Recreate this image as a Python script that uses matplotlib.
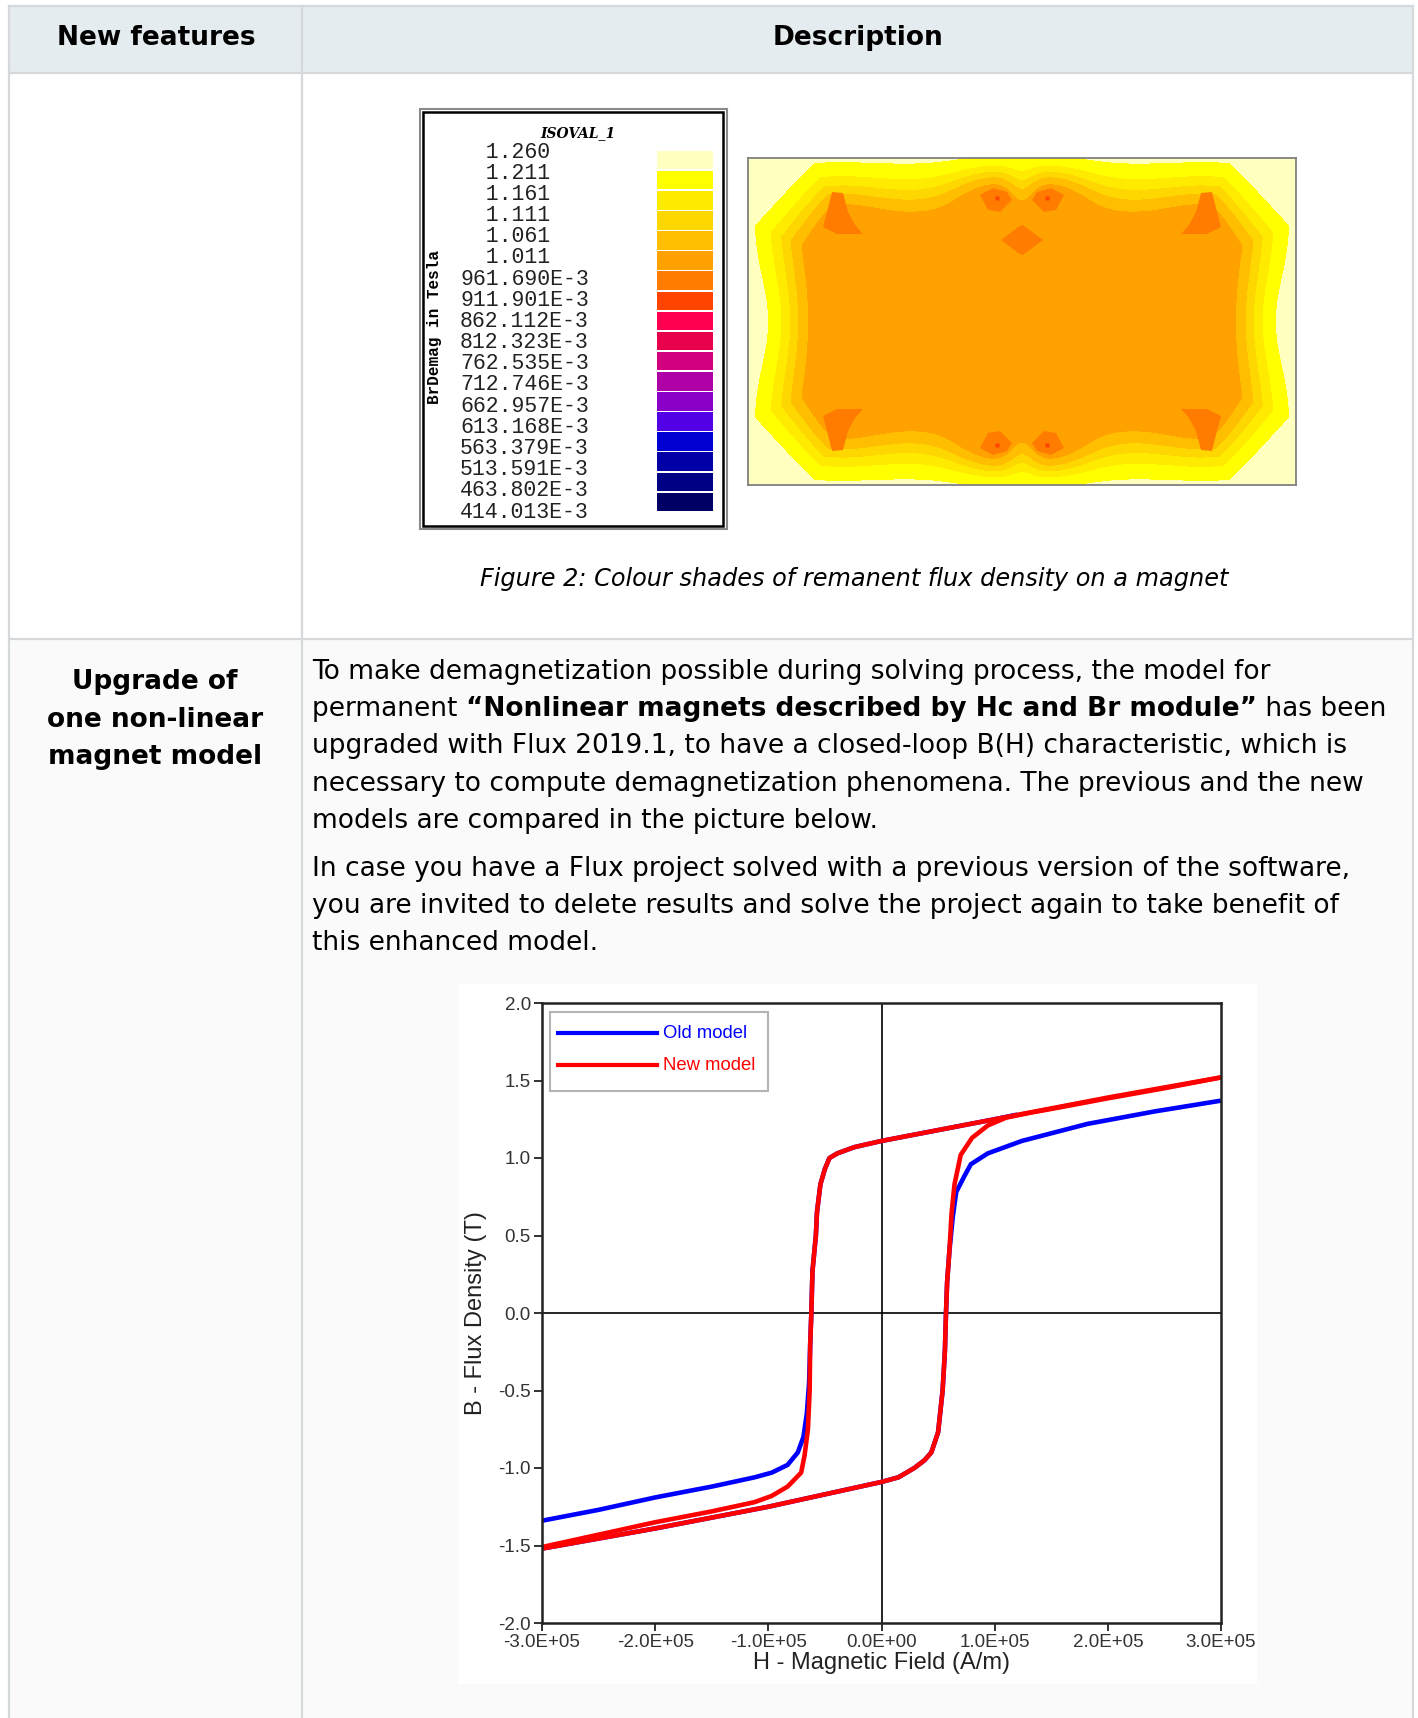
import numpy as np
import matplotlib
matplotlib.use("Agg")
import matplotlib.pyplot as plt
from matplotlib.colors import ListedColormap, BoundaryNorm
from matplotlib.patches import Rectangle, Polygon
from matplotlib.ticker import FixedLocator, FuncFormatter

# ---------------- data ----------------
# colour scale of the field plot (top = highest value)
iso_labels = ['1.260', '1.211', '1.161', '1.111', '1.061', '1.011',
              '961.690E-3', '911.901E-3', '862.112E-3', '812.323E-3',
              '762.535E-3', '712.746E-3', '662.957E-3', '613.168E-3',
              '563.379E-3', '513.591E-3', '463.802E-3', '414.013E-3']
iso_colors = ['#ffffc0', '#ffff00', '#ffeb00', '#ffd700', '#ffbf00', '#ffa200',
              '#ff7c00', '#ff4400', '#ff0050', '#e8004a', '#d20080', '#b000a8',
              '#8a00c8', '#5200e6', '#0000d2', '#0000a6', '#000084', '#000064']

# B(H) curves, H in 1E+05 A/m, B in T
h_new_down = [3.0, 2.5, 2.0, 1.5, 1.0, 0.5, 0.0, -0.24, -0.39, -0.46, -0.50, -0.54, -0.57, -0.58,
              -0.61, -0.62, -0.63, -0.635, -0.65, -0.68, -0.71, -0.83, -0.97, -1.12, -1.5, -2.0, -2.5, -3.0]
b_new_down = [1.52, 1.455, 1.39, 1.32, 1.25, 1.18, 1.11, 1.07, 1.03, 1.0, 0.93, 0.83, 0.65, 0.5,
              0.27, 0.0, -0.2, -0.5, -0.75, -0.92, -1.03, -1.12, -1.18, -1.22, -1.28, -1.35, -1.43, -1.51]
h_new_up = [-3.0, -2.5, -2.0, -1.5, -1.0, -0.5, 0.0, 0.15, 0.29, 0.38, 0.44, 0.50, 0.54, 0.56,
            0.57, 0.58, 0.60, 0.62, 0.645, 0.70, 0.80, 0.94, 1.10, 1.30, 1.60, 2.0, 2.5, 3.0]
b_new_up = [-1.52, -1.455, -1.39, -1.32, -1.25, -1.17, -1.09, -1.06, -1.0, -0.95, -0.9, -0.77, -0.5, -0.25,
            0.0, 0.2, 0.4, 0.65, 0.83, 1.02, 1.13, 1.21, 1.26, 1.29, 1.33, 1.385, 1.45, 1.52]

h_old_down = [1.2, 1.0, 0.5, 0.0, -0.24, -0.39, -0.46, -0.50, -0.54, -0.57, -0.58, -0.61, -0.62,
              -0.63, -0.64, -0.66, -0.69, -0.74, -0.83, -0.97, -1.12, -1.5, -2.0, -2.5, -3.0]
b_old_down = [1.28, 1.25, 1.18, 1.11, 1.07, 1.03, 1.0, 0.93, 0.83, 0.65, 0.5, 0.27, 0.0,
              -0.2, -0.45, -0.65, -0.8, -0.9, -0.98, -1.03, -1.06, -1.12, -1.19, -1.27, -1.34]
h_old_up = [-3.0, -2.5, -2.0, -1.5, -1.0, -0.5, 0.0, 0.15, 0.29, 0.38, 0.44, 0.50, 0.54, 0.56,
            0.57, 0.58, 0.60, 0.63, 0.66, 0.73, 0.79, 0.94, 1.24, 1.82, 2.41, 3.0]
b_old_up = [-1.52, -1.455, -1.39, -1.32, -1.25, -1.17, -1.09, -1.06, -1.0, -0.95, -0.9, -0.77, -0.5, -0.25,
            0.0, 0.2, 0.4, 0.62, 0.78, 0.88, 0.96, 1.03, 1.11, 1.22, 1.30, 1.37]

h_ticks = [-3, -2, -1, 0, 1, 2, 3]
b_ticks = [-2.0, -1.5, -1.0, -0.5, 0.0, 0.5, 1.0, 1.5, 2.0]

# magnet map: band edges (px from border) and local bumps of the top-left quadrant (x, y, amp, sx, sy)
band_edges = [6, 22, 33, 43, 55]
map_bumps = [(245, 40, 30, 30, 25), (274, 40, -25, 12, 22), (0, 163, -8, 40, 40), (95, 60, 10, 30, 30)]
# dark spots of the top-left quadrant (map px)
spot_triangle = [(84, 34), (95, 35), (100, 54), (107, 67), (115, 76), (89, 76), (75, 69), (79, 54)]
spot_diamond = [(232, 37), (245, 30), (259, 34), (264, 42), (252, 54), (240, 52)]
spot_center = [(255, 82), (275, 67), (295, 82), (275, 97)]

body_lines = [
    [("To make demagnetization possible during solving process, the model for", "normal")],
    [("permanent ", "normal"), ("\u201cNonlinear magnets described by Hc and Br module\u201d", "bold"), (" has been", "normal")],
    [("upgraded with Flux 2019.1, to have a closed-loop B(H) characteristic, which is", "normal")],
    [("necessary to compute demagnetization phenomena. The previous and the new", "normal")],
    [("models are compared in the picture below.", "normal")],
    [("In case you have a Flux project solved with a previous version of the software,", "normal")],
    [("you are invited to delete results and solve the project again to take benefit of", "normal")],
    [("this enhanced model.", "normal")],
]
body_y = [672, 709, 746, 784, 821, 869, 906, 943]

# ---------------- page ----------------
W, H = 1418, 1718
fig = plt.figure(figsize=(W / 100, H / 100), dpi=100)
page = fig.add_axes([0, 0, 1, 1])
page.set_xlim(0, W)
page.set_ylim(H, 0)
page.axis('off')


def px_axes(x0, y0, x1, y1):
    return fig.add_axes([x0 / W, 1 - y1 / H, (x1 - x0) / W, (y1 - y0) / H])


grid_col = '#d5d9dc'
page.add_patch(Rectangle((9, 6), 1404, 67, facecolor='#e5ecf0', edgecolor='none'))
page.add_patch(Rectangle((9, 73), 1404, 566, facecolor='white', edgecolor='none'))
page.add_patch(Rectangle((9, 639), 1404, 1090, facecolor='#fafafa', edgecolor='none'))
for yy in [6, 73, 639]:
    page.plot([9, 1413], [yy, yy], color=grid_col, lw=1.6)
for xx in [9, 302, 1413]:
    page.plot([xx, xx], [6, H], color=grid_col, lw=1.6)

page.text(156, 38, "New features", fontsize=19, fontweight='bold', ha='center', va='center')
page.text(858, 38, "Description", fontsize=19, fontweight='bold', ha='center', va='center')
for yy, s in zip([682, 720, 757], ["Upgrade of", "one non-linear", "magnet model"]):
    page.text(155, yy, s, fontsize=19, fontweight='bold', ha='center', va='center')

r = fig.canvas.get_renderer()
for yy, pieces in zip(body_y, body_lines):
    x = 312
    for s, w in pieces:
        t = page.text(x, yy, s, fontsize=19, fontweight=w, ha='left', va='center')
        x += t.get_window_extent(renderer=r).width

page.text(854, 579, "Figure 2: Colour shades of remanent flux density on a magnet",
          fontsize=17.3, fontstyle='italic', ha='center', va='center')

# ---------------- colour scale box ----------------
page.add_patch(Rectangle((420, 109), 307, 420, facecolor='white', edgecolor='#8a8a8a', lw=1.5))
page.add_patch(Rectangle((423, 112), 300, 414, facecolor='none', edgecolor='black', lw=1.8))
page.text(578, 133, "ISOVAL_1", fontsize=10, fontweight='bold', fontstyle='italic',
          family='DejaVu Serif', ha='center', va='center')
page.text(435, 327, "BrDemag in Tesla", fontsize=11.5, fontweight='bold', family='Liberation Mono',
          rotation=90, ha='center', va='center')
n = len(iso_labels)
pitch = (512 - 150) / n
lab_step = (512 - 152) / (n - 1)
for i, (lab, col) in enumerate(zip(iso_labels, iso_colors)):
    page.add_patch(Rectangle((657, 150 + i * pitch + 0.8), 56, pitch - 1.6, facecolor=col, edgecolor='none'))
    pad = ' ' * (3 - len(lab.split('.')[0]))
    page.text(460, 152 + i * lab_step, pad + lab, fontsize=15.5, family='Liberation Mono',
              color='#222222', ha='left', va='center')

# ---------------- magnet field map ----------------
mw, mh = 548, 327
axm = px_axes(748, 158, 748 + mw, 158 + mh)
gx, gy = np.meshgrid(np.arange(mw) + 0.5, np.arange(mh) + 0.5)
dx = np.minimum(gx, mw - gx)
dy = np.minimum(gy, mh - gy)
depth = np.minimum(np.minimum(dx, dy), (dx + dy) / np.sqrt(2) - 46)
seen = set()
for bx, by, amp, sx, sy in map_bumps:
    for cx in {bx, mw - bx}:
        for cy in {by, mh - by}:
            if (cx, cy) in seen:
                continue
            seen.add((cx, cy))
            depth += amp * np.exp(-((gx - cx) ** 2 / (2 * sx * sx) + (gy - cy) ** 2 / (2 * sy * sy)))
level = np.digitize(depth, band_edges)
cmap = ListedColormap(iso_colors[:6])
axm.imshow(level, cmap=cmap, norm=BoundaryNorm(np.arange(7) - 0.5, 6), extent=(0, mw, mh, 0),
           interpolation='nearest', aspect='auto')


def mirrored(pts):
    a = np.array(pts, dtype=float)
    out = []
    for fx in (False, True):
        for fy in (False, True):
            b = a.copy()
            if fx:
                b[:, 0] = mw - b[:, 0]
            if fy:
                b[:, 1] = mh - b[:, 1]
            out.append(b)
    return out


for poly in mirrored(spot_triangle) + mirrored(spot_diamond):
    axm.add_patch(Polygon(poly, closed=True, facecolor=iso_colors[6], edgecolor='none'))
for poly in mirrored(spot_center)[::2]:
    axm.add_patch(Polygon(poly, closed=True, facecolor=iso_colors[6], edgecolor='none'))
for poly in mirrored([(249, 40)]):
    axm.plot(poly[:, 0], poly[:, 1], 's', ms=2.5, color=iso_colors[7], mec='none')
axm.set_xlim(0, mw)
axm.set_ylim(mh, 0)
axm.set_xticks([])
axm.set_yticks([])
for sp in axm.spines.values():
    sp.set_color('#808080')
    sp.set_linewidth(1.3)

# ---------------- B(H) chart ----------------
page.add_patch(Rectangle((458, 984), 799, 700, facecolor='white', edgecolor='none'))
ax = px_axes(542, 1003, 1221, 1623)
ax.plot(np.array(h_old_down) * 1e5, b_old_down, color='#0000ff', lw=3.3, solid_capstyle='butt')
ax.plot(np.array(h_old_up) * 1e5, b_old_up, color='#0000ff', lw=3.3, solid_capstyle='butt')
ax.plot(np.array(h_new_down) * 1e5, b_new_down, color='#ff0000', lw=3.3, solid_capstyle='butt')
ax.plot(np.array(h_new_up) * 1e5, b_new_up, color='#ff0000', lw=3.3, solid_capstyle='butt')
ax.axhline(0, color='black', lw=1.2, zorder=0)
ax.axvline(0, color='black', lw=1.2, zorder=0)
ax.set_xlim(-3e5, 3e5)
ax.set_ylim(-2, 2)
ax.xaxis.set_major_locator(FixedLocator([v * 1e5 for v in h_ticks]))
ax.yaxis.set_major_locator(FixedLocator(b_ticks))
ax.xaxis.set_major_formatter(FuncFormatter(lambda v, p: "{:.1E}".format(v)))
ax.yaxis.set_major_formatter(FuncFormatter(lambda v, p: "{:.1f}".format(v)))
ax.tick_params(direction='out', length=6, width=1.3, color='#222222', labelsize=13.5,
               labelcolor='#333333', pad=2)
for lab in ax.get_xticklabels() + ax.get_yticklabels():
    lab.set_family('Liberation Sans')
for sp in ax.spines.values():
    sp.set_color('#222222')
    sp.set_linewidth(1.8)
ax.set_xlabel("H - Magnetic Field (A/m)", fontsize=17, family='Liberation Sans', color='#222222', labelpad=1)
ax.set_ylabel("B - Flux Density (T)", fontsize=17, family='Liberation Sans', color='#222222', labelpad=8)

# legend drawn as in the source picture
page.add_patch(Rectangle((550, 1012), 218, 79, facecolor='white', edgecolor='#b4b4b4', lw=1.5, zorder=5))
for yy, col, name in [(1033, '#0000ff', "Old model"), (1065, '#ff0000', "New model")]:
    page.plot([558, 657], [yy, yy], color=col, lw=3, zorder=6)
    page.text(663, yy, name, color=col, fontsize=13.3, family='Liberation Sans', va='center', zorder=6)
page.set_zorder(0)
ax.set_zorder(1)
ax.patch.set_alpha(0)

fig.savefig("out.png", dpi=100)
